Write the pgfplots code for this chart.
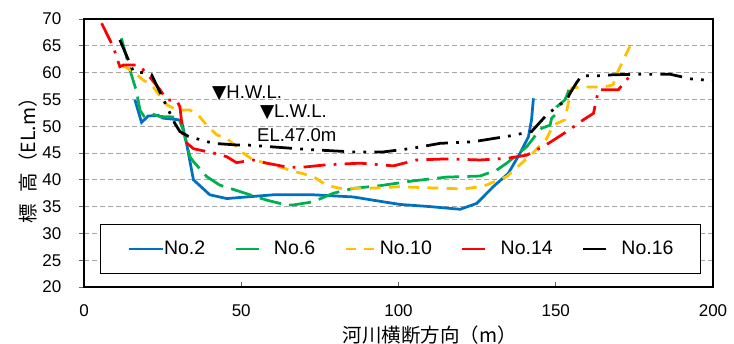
\documentclass[border=0pt]{standalone}
\usepackage{fontspec}
\setmainfont{Liberation Sans}
\newfontfamily\jp{Noto Sans CJK JP}
\newfontfamily\dv{DejaVu Sans}
\usepackage{pgfplots}
\pgfplotsset{compat=1.18}
\definecolor{cTwo}{HTML}{0070C0}
\definecolor{cSix}{HTML}{00B050}
\definecolor{cTen}{HTML}{FFC000}
\definecolor{cFourteen}{HTML}{FF0000}
\pgfplotsset{
  legsolid/.style={legend image code/.code={\draw[##1] (0pt,0pt) -- (34pt,0pt);}},
  leglong/.style={legend image code/.code={\draw[##1, solid] (0pt,0pt) -- (23pt,0pt); \path (37pt,0pt);}},
  legshort/.style={legend image code/.code={\draw[##1, solid] (0pt,0pt) -- (10pt,0pt) (18pt,0pt) -- (28pt,0pt); \path (33pt,0pt);}},
}
\begin{document}
\begin{tikzpicture}
\begin{axis}[name=ax,
  scale only axis, width=629pt, height=268pt,
  xmin=0, xmax=200, ymin=20, ymax=70,
  xtick={0,50,...,200}, ytick={20,25,...,70},
  axis line style={line width=1.8pt, black},
  ymajorgrids,
  grid style={gray!70, line width=0.8pt, dash pattern=on 5pt off 3pt},
  xtick pos=left, ytick pos=left,
  xtick align=inside, ytick align=outside,
  major tick length=5pt,
  tick style={gray!80!black, line width=0.8pt},
  tick label style={font=\fontsize{17}{20}\selectfont},
  /pgf/number format/assume math mode=true,
  xticklabel style={anchor=center, yshift=-24pt},
  yticklabel style={anchor=east, inner sep=0pt, xshift=-17.5pt},
  xlabel={\jp 河川横断方向（m）},
  ylabel={\jp 標\hspace{0.6em}高（EL.m）},
  xlabel style={at={(axis description cs:0.55,-0.18)}, anchor=center, font=\fontsize{19.5}{22}\selectfont},
  ylabel style={at={(axis description cs:-0.089,0.489)}, anchor=center, font=\fontsize{19.5}{22}\selectfont},
  legend columns=5,
  legend style={at={(0.503,0.142)}, anchor=center, draw=black, line width=1.3pt,
    inner xsep=27pt, inner ysep=15pt, font=\fontsize{19.5}{22}\selectfont,
    nodes={inner xsep=0pt, inner ysep=2pt},
    /tikz/every even column/.append style={column sep=29pt}},
  every axis plot/.append style={line width=2.75pt},
]
\addplot[cTwo, solid, legsolid] coordinates {
(16.2,54.9)(18.3,50.7)(20.4,51.9)(23.6,52.0)(25.2,51.5)(30.0,51.2)(31.0,51.0)
(32.6,46.8)(34.8,40.0)(40.0,37.2)(45.4,36.5)(51.7,36.8)(60.2,37.2)(72.9,37.2)
(85.6,36.8)(94.0,36.0)(100.5,35.4)(110,35.0)(119.6,34.5)(124.9,35.6)(130.1,38.7)
(134.9,41.2)(138.6,44.9)(141.3,48.0)(142.3,51.2)(142.9,55.2)};
\addlegendentry{No.2}
\addplot[cSix, dash pattern=on 22pt off 8.25pt, leglong] coordinates {
(11.9,66.4)(14.6,60.5)(16.7,56.5)(17.8,53.0)(19.0,51.9)(21.0,52.4)(24.2,51.8)
(30.0,51.7)(31.5,49.3)(33.7,44.3)(34.8,43.4)(39.0,40.6)(43.2,39.0)(49.6,37.8)
(58.1,36.2)(64.4,35.3)(66.5,35.3)(72.9,35.9)(79.3,37.5)(85.6,38.4)(94.1,38.9)
(104.7,39.8)(115.3,40.5)(125.9,40.7)(131.2,41.8)(134.4,43.1)(137.6,44.6)
(140.8,46.2)(142.8,47.7)(144.4,49.0)(145.5,49.6)(148.2,50.2)(148.7,51.5)
(149.8,52.1)(150.3,53.6)(152.9,54.9)(154.0,56.4)(154.2,58.3)};
\addlegendentry{No.6}
\addplot[cTen, dash pattern=on 11pt off 8.25pt, legshort] coordinates {
(12.0,61.4)(15.7,60.2)(18.8,58.6)(21.5,57.7)(24.7,55.2)(26.3,54.0)(29.5,53.0)
(33.7,53.0)(36.3,52.1)(39.0,50.2)(42.2,48.4)(45.4,47.7)(48.5,46.2)(50.6,45.0)
(53.8,43.7)(60.2,42.8)(65.5,41.8)(72.9,40.6)(77.1,39.0)(81.4,38.4)(89.9,38.4)
(100.5,38.7)(110,38.5)(120.6,38.3)(127.0,38.8)(134.4,40.6)(138.6,42.8)
(142.9,45.1)(147.1,47.7)(149.2,50.2)(152.9,51.2)(154.0,54.3)(155.1,57.1)
(157.7,57.3)(165.1,57.3)(168.2,57.7)(169.3,59.6)(171.5,62.4)(174.6,66.1)};
\addlegendentry{No.10}
\addplot[cFourteen, dash pattern=on 22pt off 8.25pt on 2.75pt off 8.25pt, leglong] coordinates {
(5.6,69.2)(9.3,64.8)(11.4,61.1)(12.5,61.4)(17.3,61.4)(19.9,59.9)(24.2,56.8)
(26.3,54.9)(29.5,54.8)(30.5,53.6)(31.1,50.5)(31.6,47.4)(34.8,45.8)(41.1,45.0)
(45.4,44.3)(48.5,43.2)(53.8,43.7)(58.1,43.1)(64.4,42.4)(68.7,42.3)(77.1,42.8)
(87.8,43.1)(98.4,42.6)(105.8,43.7)(115.3,43.9)(125.9,43.7)(134.4,44.0)
(140.8,44.6)(144.0,45.6)(147.7,46.8)(153.5,49.0)(158.8,51.2)(162.0,52.4)
(162.8,54.6)(163.6,56.8)(169.9,56.8)(172.5,58.6)(174.6,60.2)};
\addlegendentry{No.14}
\addplot[black, dash pattern=on 22pt off 8.25pt on 2.75pt off 8.25pt on 2.75pt off 8.25pt, leglong] coordinates {
(11.4,66.1)(14.1,62.4)(15.7,60.2)(19.9,59.9)(21.5,59.6)(25.8,54.3)(28.9,50.5)
(30.5,49.0)(33.2,48.1)(41.1,46.8)(48.5,46.5)(51.7,46.5)(65.5,45.9)(72.9,45.6)
(85.6,45.2)(95.2,45.2)(104.7,45.9)(113.2,46.8)(123.8,47.1)(135.5,48.2)
(142.3,49.0)(147.1,52.1)(150.3,53.6)(153.5,54.9)(154.5,56.1)(156.6,58.1)
(158.2,59.4)(164.1,59.4)(168.2,59.6)(178.9,59.7)(186.3,59.7)(193.2,58.8)(200.0,58.5)};
\addlegendentry{No.16}
\node[anchor=west, inner sep=0pt, font=\fontsize{18.5}{22}\selectfont] at (axis cs:40.7,56.2) {{\dv ▼}H.W.L.};
\node[anchor=west, inner sep=0pt, font=\fontsize{18.5}{22}\selectfont] at (axis cs:55.9,52.6) {{\dv ▼}L.W.L.};
\node[anchor=west, inner sep=0pt, font=\fontsize{18.5}{22}\selectfont] at (axis cs:55.0,48.4) {EL.47.0m};
\end{axis}
\pgfresetboundingbox
\path ([shift={(-84pt,-57pt)}]ax.south west) rectangle +(734pt,344pt);
\end{tikzpicture}
\end{document}
